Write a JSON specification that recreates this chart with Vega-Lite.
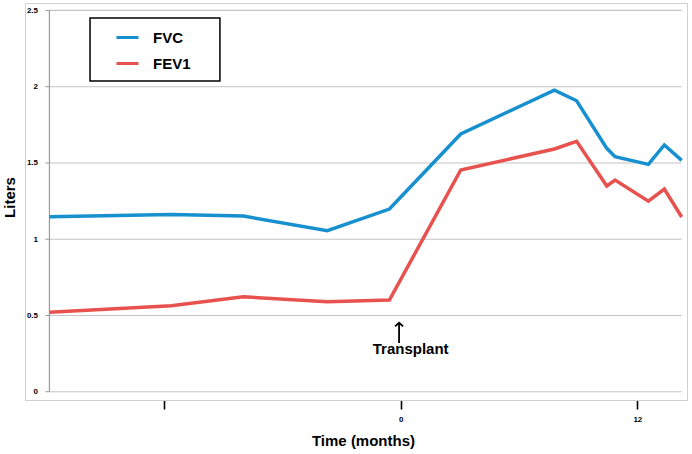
{
  "$schema": "https://vega.github.io/schema/vega-lite/v6.json",
  "width": 662,
  "height": 397,
  "autosize": {"type": "none"},
  "padding": {"left": 25, "top": 3, "right": 5, "bottom": 54},
  "background": "white",
  "config": {"view": {"stroke": "#d0d0d0", "strokeWidth": 1}, "font": "Liberation Sans"},
  "datasets": {
    "lung": [
      {"month": -17.83, "liters": 1.148, "series": "FVC"},
      {"month": -11.65, "liters": 1.163, "series": "FVC"},
      {"month": -7.99, "liters": 1.152, "series": "FVC"},
      {"month": -3.73, "liters": 1.056, "series": "FVC"},
      {"month": -0.58, "liters": 1.198, "series": "FVC"},
      {"month": 3.04, "liters": 1.69, "series": "FVC"},
      {"month": 7.79, "liters": 1.978, "series": "FVC"},
      {"month": 8.92, "liters": 1.908, "series": "FVC"},
      {"month": 10.45, "liters": 1.596, "series": "FVC"},
      {"month": 10.87, "liters": 1.541, "series": "FVC"},
      {"month": 12.56, "liters": 1.491, "series": "FVC"},
      {"month": 13.37, "liters": 1.618, "series": "FVC"},
      {"month": 14.25, "liters": 1.517, "series": "FVC"},
      {"month": -17.83, "liters": 0.521, "series": "FEV1"},
      {"month": -11.65, "liters": 0.564, "series": "FEV1"},
      {"month": -7.99, "liters": 0.623, "series": "FEV1"},
      {"month": -3.73, "liters": 0.59, "series": "FEV1"},
      {"month": -0.58, "liters": 0.601, "series": "FEV1"},
      {"month": 3.04, "liters": 1.454, "series": "FEV1"},
      {"month": 7.79, "liters": 1.592, "series": "FEV1"},
      {"month": 8.92, "liters": 1.642, "series": "FEV1"},
      {"month": 10.45, "liters": 1.349, "series": "FEV1"},
      {"month": 10.87, "liters": 1.388, "series": "FEV1"},
      {"month": 12.56, "liters": 1.25, "series": "FEV1"},
      {"month": 13.37, "liters": 1.329, "series": "FEV1"},
      {"month": 14.25, "liters": 1.146, "series": "FEV1"}
    ],
    "grid": [{"v": 0}, {"v": 0.5}, {"v": 1}, {"v": 1.5}, {"v": 2}, {"v": 2.5}]
  },
  "layer": [
    {
      "data": {"name": "grid"},
      "mark": {"type": "rule", "color": "#c4c4c4", "strokeWidth": 1.2},
      "encoding": {
        "y": {
          "field": "v", "type": "quantitative",
          "scale": {"domain": [-0.054, 2.549], "nice": false, "zero": false},
          "axis": {
            "values": [0, 0.5, 1, 1.5, 2, 2.5],
            "labelExpr": "'' + datum.value",
            "grid": false,
            "domain": false,
            "ticks": false,
            "tickSize": 0,
            "labelPadding": -12.5,
            "labelFontSize": 8,
            "labelFontWeight": "bold",
            "labelColor": "black",
            "labelBaseline": "middle",
            "title": "Liters",
            "titleFontSize": 15,
            "titleFontWeight": "bold",
            "titleColor": "black",
            "titleX": -16,
            "titleY": 194,
            "titleAlign": "center",
            "titleBaseline": "middle",
            "titleAngle": -90
          }
        },
        "x": {
          "datum": -17.83, "type": "quantitative",
          "scale": {"domain": [-19.07, 14.52], "nice": false, "zero": false},
          "axis": {
            "values": [-12, 0, 12],
            "labelExpr": "datum.value == -12 ? '' : '' + datum.value",
            "grid": false,
            "domainColor": "#d0d0d0",
            "tickColor": "black",
            "tickWidth": 1.6,
            "tickSize": 9,
            "labelPadding": 6,
            "labelFontSize": 8,
            "labelFontWeight": "bold",
            "labelColor": "black",
            "title": "Time (months)",
            "titleFontSize": 15,
            "titleFontWeight": "bold",
            "titleColor": "black",
            "titleX": 338,
            "titleY": 40,
            "titleAlign": "center",
            "titleBaseline": "middle"
          }
        },
        "x2": {"datum": 14.25}
      }
    },
    {
      "data": {"name": "grid"},
      "mark": {"type": "point", "shape": "stroke", "filled": false, "stroke": "#9a9a9a", "strokeWidth": 1, "size": 16, "opacity": 1},
      "encoding": {
        "x": {"datum": -17.93, "type": "quantitative"},
        "y": {"field": "v", "type": "quantitative"}
      }
    },
    {
      "data": {"values": [{}]},
      "mark": {"type": "rule", "color": "#9a9a9a", "strokeWidth": 1.2},
      "encoding": {
        "x": {"datum": -17.83, "type": "quantitative"},
        "y": {"datum": 0, "type": "quantitative"},
        "y2": {"datum": 2.5}
      }
    },
    {
      "data": {"values": [{}]},
      "mark": {"type": "rect", "fill": "white", "stroke": "black", "strokeWidth": 1.5},
      "encoding": {
        "x": {"datum": -15.77, "type": "quantitative"},
        "x2": {"datum": -9.18},
        "y": {"datum": 2.45, "type": "quantitative"},
        "y2": {"datum": 2.037}
      }
    },
    {
      "data": {"name": "lung"},
      "mark": {"type": "line", "strokeWidth": 3.5, "strokeJoin": "miter"},
      "encoding": {
        "x": {"field": "month", "type": "quantitative"},
        "y": {"field": "liters", "type": "quantitative"},
        "color": {
          "field": "series", "type": "nominal",
          "scale": {"domain": ["FVC", "FEV1"], "range": ["#1690cf", "#e8524e"]},
          "legend": {
            "orient": "none",
            "legendX": 65,
            "legendY": 15,
            "title": null,
            "symbolType": "stroke",
            "symbolSize": 484,
            "symbolStrokeWidth": 3,
            "padding": 7,
            "rowPadding": 5,
            "symbolOffset": 18,
            "labelOffset": 13,
            "labelFontSize": 15,
            "labelFontWeight": "bold",
            "labelColor": "black"
          }
        }
      }
    },
    {
      "data": {"values": [{}]},
      "mark": {"type": "rule", "color": "black", "strokeWidth": 1.8},
      "encoding": {
        "x": {"datum": -0.09, "type": "quantitative"},
        "y": {"datum": 0.32, "type": "quantitative"},
        "y2": {"datum": 0.448}
      }
    },
    {
      "data": {"values": [{}]},
      "mark": {"type": "point", "shape": "M-1,0.9L0,0L1,0.9", "filled": false, "stroke": "black", "strokeWidth": 1.8, "size": 64, "opacity": 1},
      "encoding": {
        "x": {"datum": -0.09, "type": "quantitative"},
        "y": {"datum": 0.452, "type": "quantitative"}
      }
    },
    {
      "data": {"values": [{"label": "Transplant"}]},
      "mark": {"type": "text", "fontSize": 15, "fontWeight": "bold", "color": "black", "align": "center", "baseline": "middle"},
      "encoding": {
        "x": {"datum": 0.5, "type": "quantitative"},
        "y": {"datum": 0.28, "type": "quantitative"},
        "text": {"field": "label"}
      }
    }
  ]
}
